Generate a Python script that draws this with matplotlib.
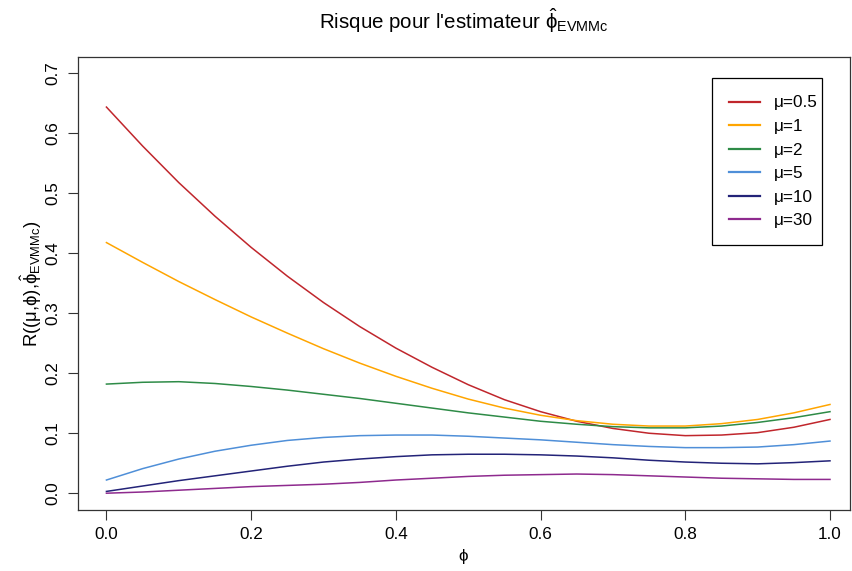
import matplotlib
matplotlib.use("Agg")
import matplotlib.pyplot as plt
from matplotlib.patches import Rectangle
import numpy as np

plt.rcParams['font.family'] = ['Liberation Sans', 'DejaVu Sans']
plt.rcParams['mathtext.fontset'] = 'custom'
plt.rcParams['mathtext.rm'] = 'Liberation Sans'
plt.rcParams['mathtext.it'] = 'Liberation Sans'
plt.rcParams['mathtext.bf'] = 'Liberation Sans:bold'

phi = [0.00, 0.05, 0.10, 0.15, 0.20, 0.25, 0.30, 0.35, 0.40, 0.45, 0.50,
       0.55, 0.60, 0.65, 0.70, 0.75, 0.80, 0.85, 0.90, 0.95, 1.00]

risk_mu_0_5 = [0.644, 0.579, 0.518, 0.462, 0.410, 0.362, 0.318, 0.278, 0.242, 0.210, 0.181,
               0.156, 0.136, 0.120, 0.108, 0.100, 0.096, 0.097, 0.101, 0.110, 0.123]
risk_mu_1 = [0.418, 0.385, 0.353, 0.323, 0.294, 0.267, 0.241, 0.217, 0.195, 0.175, 0.157,
             0.142, 0.130, 0.121, 0.115, 0.112, 0.112, 0.116, 0.123, 0.134, 0.148]
risk_mu_2 = [0.182, 0.185, 0.186, 0.183, 0.178, 0.172, 0.165, 0.158, 0.150, 0.142, 0.134,
             0.127, 0.120, 0.115, 0.111, 0.109, 0.109, 0.112, 0.118, 0.126, 0.136]
risk_mu_5 = [0.022, 0.041, 0.057, 0.070, 0.080, 0.088, 0.093, 0.096, 0.097, 0.097, 0.095,
             0.092, 0.089, 0.085, 0.081, 0.078, 0.076, 0.076, 0.077, 0.081, 0.087]
risk_mu_10 = [0.003, 0.012, 0.021, 0.029, 0.037, 0.045, 0.052, 0.057, 0.061, 0.064, 0.065,
              0.065, 0.064, 0.062, 0.059, 0.055, 0.052, 0.050, 0.049, 0.051, 0.054]
risk_mu_30 = [0.000, 0.002, 0.005, 0.008, 0.011, 0.013, 0.015, 0.018, 0.022, 0.025, 0.028,
              0.030, 0.031, 0.032, 0.031, 0.029, 0.027, 0.025, 0.024, 0.023, 0.023]

labels = ["μ=0.5", "μ=1", "μ=2", "μ=5", "μ=10", "μ=30"]
colors = ["#C0262C", "#FFA500", "#2E8B47", "#4F8FD8", "#232378", "#8E2A8E"]
series = [risk_mu_0_5, risk_mu_1, risk_mu_2, risk_mu_5, risk_mu_10, risk_mu_30]

xticks = [0.0, 0.2, 0.4, 0.6, 0.8, 1.0]
yticks = [0.0, 0.1, 0.2, 0.3, 0.4, 0.5, 0.6, 0.7]

W, H = 852, 571
fig = plt.figure(figsize=(W / 100, H / 100), dpi=100)
l, r, t, b = 77.5, 850, 56.7, 510
ax = fig.add_axes([l / W, (H - b) / H, (r - l) / W, (b - t) / H])

for ys, c, lab in zip(series, colors, labels):
    ax.plot(phi, ys, color=c, lw=1.1, label=lab)

FS = 12.3
ax.set_xlim(-0.04, (850 - 106.6) / 723.4)
ax.set_ylim(-0.028, 0.728)
ax.set_xticks(xticks)
ax.set_yticks(yticks)
ax.set_xticklabels([f"{v:.1f}" for v in xticks])
ax.set_yticklabels([f"{v:.1f}" for v in yticks], rotation=90, va='center')
ax.tick_params(direction='out', length=7, width=0.8, labelsize=FS, pad=5,
               colors='#333333', labelcolor='black')
for s in ax.spines.values():
    s.set_linewidth(0.9)
    s.set_color('#333333')

ax.set_xlabel(r"$\phi$", fontsize=FS, labelpad=4)
ax.set_ylabel(r"R(($\mu$,$\phi$),$\hat{\phi}_{\mathrm{EVMMc}}$)", fontsize=FS + 1, labelpad=1)
fig.text((l + r) / 2 / W, 1 - 21 / H, r"Risque pour l'estimateur $\hat{\phi}_{\mathrm{EVMMc}}$",
         ha='center', va='center', fontsize=14.8)

# legend: entries without frame, box drawn separately (R-style padding)
leg = ax.legend(loc='upper left', bbox_to_anchor=(728.5 / W, 1 - 95.5 / H),
                bbox_transform=fig.transFigure,
                frameon=False, fontsize=FS,
                handlelength=1.87, handletextpad=0.8, labelspacing=0.5, borderpad=0,
                borderaxespad=0)
for ln in leg.get_lines():
    ln.set_linewidth(1.6)
fig.patches.append(Rectangle((712 / W, 1 - 245.5 / H), 109.5 / W, 167.1 / H,
                             transform=fig.transFigure, fill=False,
                             edgecolor='black', linewidth=0.9, zorder=5))

fig.savefig("out.png", dpi=100)
